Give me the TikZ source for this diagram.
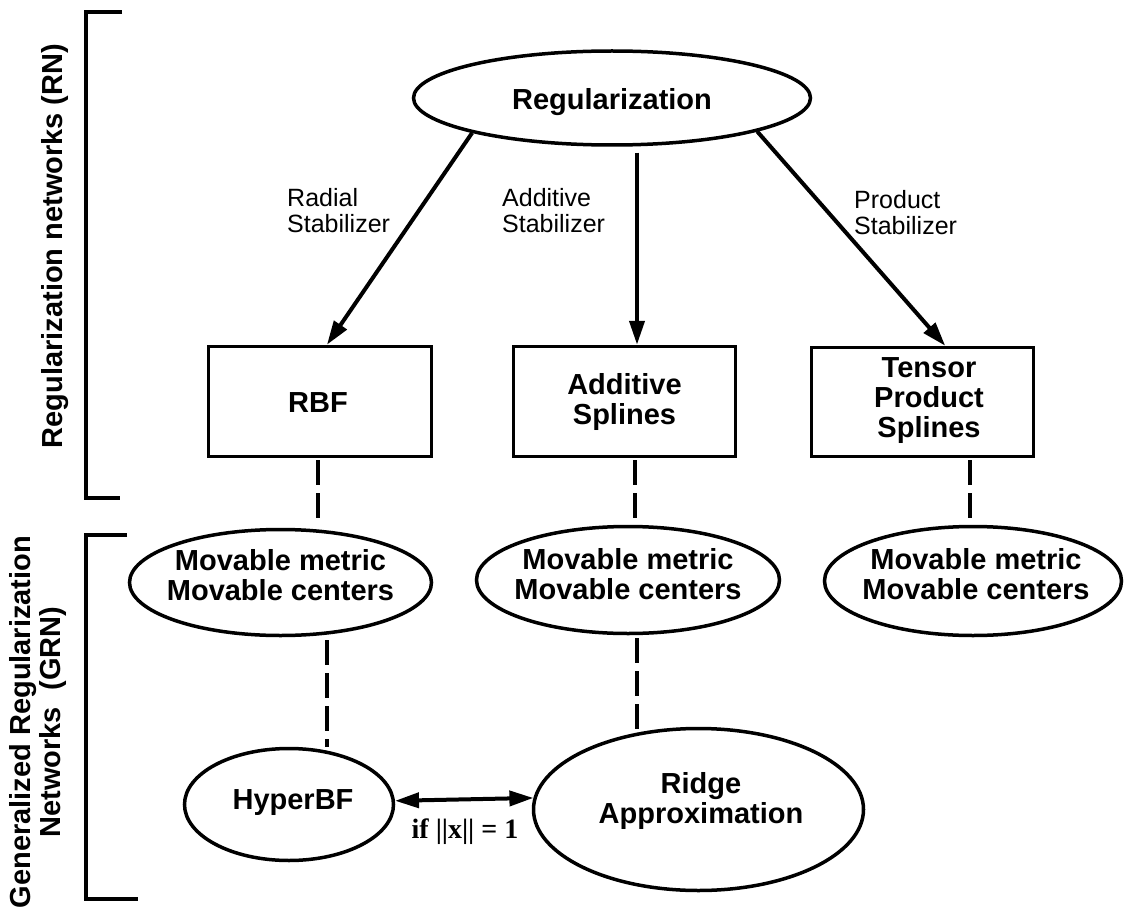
\documentclass[tikz,border=0pt]{standalone}
\usepackage{fontspec}
\setmainfont{Liberation Sans}
\newfontfamily\serifbf{Liberation Serif}
\usetikzlibrary{shapes.geometric,arrows.meta,calc}

\begin{document}
\begin{tikzpicture}[x=1pt,y=-1pt,
  ell/.style={draw, ellipse, line width=3.5pt, inner sep=0pt},
  box/.style={draw, rectangle, line width=3.5pt, inner sep=0pt},
  ntxt/.style={font=\bfseries\fontsize{29}{30}\selectfont, align=center, inner sep=0pt},
  stab/.style={font=\fontsize{25}{26.5}\selectfont, align=left, anchor=north west, inner sep=0pt},
  side/.style={font=\bfseries\fontsize{29}{30}\selectfont, align=center, rotate=90, inner sep=0pt},
  arr/.style={line width=4pt, -{Triangle[length=24pt,width=15pt]}},
  dbl/.style={line width=4pt, {Triangle[length=24pt,width=15pt]}-{Triangle[length=24pt,width=15pt]}},
  dsh/.style={line width=4.5pt, dash pattern=on 25pt off 8pt},
  brk/.style={line width=4pt}
]
\useasboundingbox (0,0) rectangle (1124,912);

% brackets
\draw[brk] (122,12) -- (86,12) -- (86,498) -- (120,498);
\draw[brk] (127,535) -- (86,535) -- (86,899) -- (138,899);
\node[side] (rn) at (55,246) {Regularization networks (RN)};
\node[side] (grn) at (38,722) {Generalized Regularization\\Networks\hspace{0.3em} (GRN)};

% top
\node[ell, minimum width=397pt, minimum height=94pt] (reg) at (612,98) {};
\node[ntxt] (regt) at ([yshift=-4pt]reg.center) {Regularization};

% boxes
\node[box, minimum width=223pt, minimum height=110pt] (rbf) at (320,401.5) {};
\node[ntxt] (rbft) at (318,403) {RBF};
\node[box, minimum width=222pt, minimum height=110pt] (add) at (624.5,401.5) {};
\node[ntxt] (addt) at (add.center) {Additive\\Splines};
\node[box, minimum width=222pt, minimum height=109pt] (ten) at (922.5,402) {};
\node[ntxt] (tent) at (929,401) {Tensor\\Product\\Splines};

% stabilizer labels
\node[stab] (rad) at (287,188) {Radial\\Stabilizer};
\node[stab] (ads) at (502,188) {Additive\\Stabilizer};
\node[stab] (prs) at (854,190) {Product\\Stabilizer};

% movable ellipses
\node[ell, minimum width=302pt, minimum height=106pt] (mm1) at (280.5,582.5) {};
\node[ntxt] (mm1t) at ([yshift=7pt]mm1.center) {Movable metric\\Movable centers};
\node[ell, minimum width=303pt, minimum height=107pt] (mm2) at (628,580) {};
\node[ntxt] (mm2t) at ([yshift=6pt]mm2.center) {Movable metric\\Movable centers};
\node[ell, minimum width=297pt, minimum height=109pt] (mm3) at (973,581) {};
\node[ntxt] (mm3t) at ([xshift=3pt,yshift=7pt]mm3.center) {Movable metric\\Movable centers};

% bottom
\node[ell, minimum width=209pt, minimum height=112pt] (hyp) at (289,804.5) {};
\node[ntxt] (hypt) at (293,803) {HyperBF};
\node[ell, minimum width=330pt, minimum height=162pt] (rid) at (698.5,809.5) {};
\node[ntxt] (ridt) at (701,800.5) {Ridge\\Approximation};

% arrows
\draw[arr] (reg.194) -- (rbf.83);
\draw[arr] ($(reg.south)+(25,6)$) -- ($(add.north)+(12.5,0)$);
\draw[arr] (reg.347) -- (ten.68);

% dashed
\draw[dsh, shorten <=2pt, shorten >=8pt] ($(rbf.south)+(-2,0)$) -- ($(rbf.south |- mm1.north)+(-2,0)$);
\draw[dsh, shorten <=2pt, shorten >=6pt] ($(add.south)+(10.5,0)$) -- ($(add.south |- mm2.north)+(10.5,0)$);
\draw[dsh, shorten <=2pt, shorten >=4pt] ($(ten.south)+(47.5,0)$) -- ($(ten.south |- mm3.north)+(47.5,0)$);
\draw[dsh, shorten <=3pt] ($(mm1.south)+(46.5,0)$) -- ($(hyp.north)+(38,0)$);
\draw[dsh, shorten <=3pt] ($(mm2.south)+(9,0)$) -- ($(rid.north)+(-61.5,4)$);

% double arrow
\draw[dbl] (hyp.2) -- (rid.176);
\node[font=\serifbf\bfseries\fontsize{28}{30}\selectfont, inner sep=0pt] (cond) at (465,832) {if ||x|| = 1};
\end{tikzpicture}
\end{document}
